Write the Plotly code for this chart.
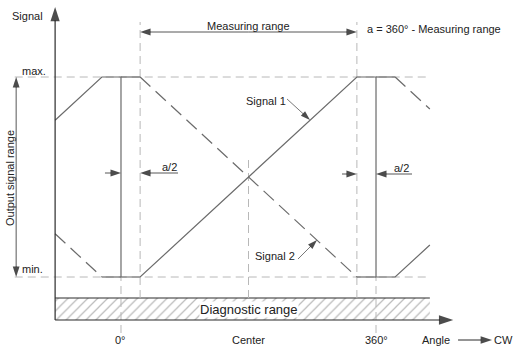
import plotly.graph_objects as go

# ---- angle axis (degrees) and signal level (% of output range) ----
half_a = 27                      # a/2, gap on either side of 0° / 360°
meas_start, meas_end = 27, 333   # measuring range
angle_ticks = [0, 180, 360]
tick_labels = ["0°", "Center", "360°"]

# Signal 1: rising ramp, clamped, wraps at 0° / 360°
sig1_x = [-93, -27, 0, 0, 27, 333, 360, 360, 387, 436]
sig1_y = [78.4, 100, 100, 0, 0, 100, 100, 0, 0, 16]

# Signal 2: falling ramp (dashed slopes, solid clamped parts)
sig2_slopes = [([-93, -27], [21.6, 0]), ([27, 333], [100, 0]), ([387, 436], [100, 84])]
sig2_flats = [([-27, 0], [0, 0]), ([0, 27], [100, 100]),
              ([333, 360], [0, 0]), ([360, 387], [100, 100])]

sig_min, sig_max = 0, 100
ref_left, ref_right = -150, 436
yaxis_x = -93
base_y = -21.5        # angle axis
diag_top = -10.5      # top of diagnostic band
label_y = -31.5

LINE = "#6b6b6b"
AXIS = "#2b2b2b"
REF = "#b8b8b8"
TXT = "#222222"
FONT = "Liberation Sans, Arial, sans-serif"

fig = go.Figure()


def line(x, y, color=LINE, width=1.2, dash=None):
    fig.add_trace(go.Scatter(x=x, y=y, mode="lines", hoverinfo="skip",
                             line=dict(color=color, width=width, dash=dash)))


def arrow(x0, y0, x1, y1, size=8, color=AXIS, width=1, head="#000000"):
    fig.add_trace(go.Scatter(
        x=[x0, x1], y=[y0, y1], mode="lines+markers", hoverinfo="skip",
        line=dict(color=color, width=width),
        marker=dict(symbol="arrow", size=[0, size], angleref="previous",
                    color=head, line=dict(width=0))))


def text(x, y, s, size=11, xanchor="center", angle=0, bg=None):
    fig.add_annotation(x=x, y=y, text=s, showarrow=False, xanchor=xanchor,
                       yanchor="middle", textangle=angle,
                       font=dict(family=FONT, size=size, color=TXT),
                       bgcolor=bg, borderpad=0)


# diagnostic band (hatched)
fig.add_trace(go.Scatter(
    x=[yaxis_x, ref_right, ref_right, yaxis_x, yaxis_x],
    y=[base_y, base_y, diag_top, diag_top, base_y],
    mode="lines", fill="toself", hoverinfo="skip",
    line=dict(width=0, color="rgba(0,0,0,0)"),
    fillcolor="white",
    fillpattern=dict(shape="/", size=7, solidity=0.18,
                     fgcolor="#7a7a7a", bgcolor="white")))
line([yaxis_x, ref_right], [diag_top, diag_top], color=AXIS, width=1)

# reference dashed lines
for lvl in (sig_max, sig_min):
    line([ref_left, ref_right], [lvl, lvl], color=REF, width=1, dash="8px,5px")
for xv in (meas_start, meas_end):
    line([xv, xv], [diag_top, 127.5], color=REF, width=1, dash="8px,5px")
line([180, 180], [diag_top, 59], color=REF, width=1, dash="8px,5px")
for xv in (0, 360):
    line([xv, xv], [-28, sig_min], color=REF, width=1, dash="8px,5px")

# signals
for xs, ys in sig2_slopes:
    line(xs, ys, dash="14px,7px")
for xs, ys in sig2_flats:
    line(xs, ys)
line(sig1_x, sig1_y)

# axes
arrow(yaxis_x, base_y, yaxis_x, 135, size=15, width=1.2)
arrow(yaxis_x, base_y, 469, base_y, size=15, width=1.2)

# measuring range dimension
arrow(180, 122.5, meas_start, 122.5, size=11, width=0.8)
arrow(180, 122.5, meas_end, 122.5, size=11, width=0.8)

# output signal range dimension
arrow(-148, 50, -148, sig_max, size=11, width=0.8)
arrow(-148, 50, -148, sig_min, size=11, width=0.8)

# a/2 dimensions
arrow(-22.6, 52, 0, 52, size=11, width=0.8)
arrow(80.5, 52, half_a, 52, size=11, width=0.8)
arrow(312, 51.5, meas_end, 51.5, size=11, width=0.8)
arrow(410.8, 51.5, 360, 51.5, size=11, width=0.8)

# signal leaders
arrow(234.4, 89, 266.8, 78.5, size=10, width=0.8, color="#555")
arrow(249.9, 9, 276.7, 18.5, size=10, width=0.8, color="#555")

# angle direction arrow
arrow(475.8, label_y, 523.8, label_y, size=12, width=1)

# labels
text(-131.3, 130.5, "Signal")
text(-104.5, 103, "max.", xanchor="right")
text(-108.7, 3.8, "min.", xanchor="right")
text(-156.7, 49.5, "Output signal range", angle=-90)
text(180, 125.5, "Measuring range")
text(345.9, 124, "a = 360° - Measuring range", xanchor="left")
text(67.8, 55, "a/2")
text(395.3, 54.5, "a/2")
text(204, 88, "Signal 1")
text(247, 10.5, "Signal 2", xanchor="right")
text(180.7, -16, "Diagnostic range", size=13, bg="white")
for xv, lab in zip(angle_ticks, tick_labels):
    text(xv, label_y, lab)
text(444.7, label_y, "Angle")
text(539.3, label_y, "CW")

fig.update_layout(
    width=515, height=349, margin=dict(l=0, r=0, t=0, b=0),
    paper_bgcolor="white", plot_bgcolor="white", showlegend=False,
    xaxis=dict(range=[-170.8, 556.2], visible=False, fixedrange=True),
    yaxis=dict(range=[-36, 138.5], visible=False, fixedrange=True),
)

fig.write_html("out.html")
